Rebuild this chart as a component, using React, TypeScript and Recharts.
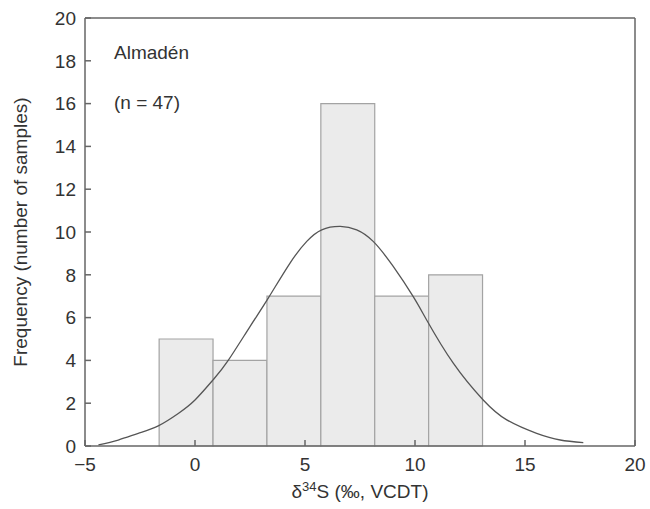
import React from "react";
import {
  ComposedChart,
  Line,
  XAxis,
  YAxis,
  ReferenceArea,
  ReferenceLine,
} from "recharts";

// histogram bins (δ34S, ‰) and counts
const binStarts = [-1.63, 0.82, 3.27, 5.72, 8.17, 10.62];
const binEnds = [0.82, 3.27, 5.72, 8.17, 10.62, 13.07];
const counts = [5, 4, 7, 16, 7, 8];

// fitted curve
const curveX = [
  -4.39, -3.49, -2.58, -1.67, -0.76, 0.0, 0.83, 1.51, 2.5, 3.33, 4.32, 5.08, 5.76,
  6.6, 7.35, 8.1, 9.01, 9.92, 10.53, 11.74, 13.1, 14.17, 15.53, 16.6, 17.65,
];
const curveY = [
  0.05, 0.28, 0.59, 0.94, 1.52, 2.15, 3.1, 4.0, 5.58, 6.91, 8.55, 9.56, 10.1,
  10.26, 10.1, 9.56, 8.39, 6.98, 5.89, 3.87, 2.15, 1.22, 0.59, 0.28, 0.16,
];

const xTicks = [-5, 0, 5, 10, 15, 20];
const yTicks = [0, 2, 4, 6, 8, 10, 12, 14, 16, 18, 20];

const curve = curveX.map((x, i) => ({ x, y: curveY[i] }));

const FONT = "'Liberation Sans', Arial, Helvetica, sans-serif";
const AXIS = "#666";
const TEXT = "#333";
const tickStyle = { fontSize: 19, fill: TEXT, fontFamily: FONT };

function XTitle(props: any) {
  const { x, y, width } = props.viewBox;
  return (
    <text
      x={x + width / 2}
      y={y + 52}
      textAnchor="middle"
      fontSize={19}
      fontFamily={FONT}
      fill={TEXT}
    >
      δ
      <tspan fontSize={13} dy={-7}>
        34
      </tspan>
      <tspan dy={7}>S (‰, VCDT)</tspan>
    </text>
  );
}

function YTitle(props: any) {
  const { y, height } = props.viewBox;
  const cx = 27;
  const cy = y + height / 2;
  return (
    <text
      x={cx}
      y={cy}
      transform={`rotate(-90, ${cx}, ${cy})`}
      textAnchor="middle"
      fontSize={19}
      fontFamily={FONT}
      fill={TEXT}
    >
      Frequency (number of samples)
    </text>
  );
}

export default function App() {
  return (
    <div style={{ position: "absolute", left: 0, top: 0 }}>
      <ComposedChart width={650} height={509} margin={{ top: 18, right: 0, bottom: 0, left: 0 }}>
        {counts.map((c, i) => (
          <ReferenceArea
            key={`bin-${i}`}
            x1={binStarts[i]}
            x2={binEnds[i]}
            y1={0}
            y2={c}
            fill="#ebebeb"
            fillOpacity={1}
            stroke="#a3a3a3"
            strokeWidth={1.2}
          />
        ))}
        <XAxis
          dataKey="x"
          type="number"
          domain={[-5, 20]}
          ticks={xTicks}
          allowDataOverflow
          height={63}
          stroke={AXIS}
          strokeWidth={1.5}
          tickSize={-6}
          tickMargin={18}
          tick={tickStyle}
          tickFormatter={(v: number) => String(v).replace("-", "\u2212")}
          label={<XTitle />}
        />
        <YAxis
          type="number"
          domain={[0, 20]}
          ticks={yTicks}
          width={85}
          stroke={AXIS}
          strokeWidth={1.5}
          tickSize={-6}
          tickMargin={15}
          tick={tickStyle}
          label={<YTitle />}
        />
        <YAxis
          yAxisId="r"
          orientation="right"
          type="number"
          domain={[0, 20]}
          ticks={yTicks}
          width={15}
          stroke={AXIS}
          strokeWidth={1.5}
          tickSize={-6}
          tick={false}
        />
        <ReferenceLine y={20} stroke={AXIS} strokeWidth={1.5} />
        <Line
          data={curve}
          dataKey="y"
          type="natural"
          dot={false}
          activeDot={false}
          stroke="#555"
          strokeWidth={1.3}
          isAnimationActive={false}
        />
        <text x={114} y={59} fontSize={19} fontFamily={FONT} fill={TEXT}>
          Almadén
        </text>
        <text x={114} y={109} fontSize={19} fontFamily={FONT} fill={TEXT}>
          (n = 47)
        </text>
      </ComposedChart>
    </div>
  );
}
